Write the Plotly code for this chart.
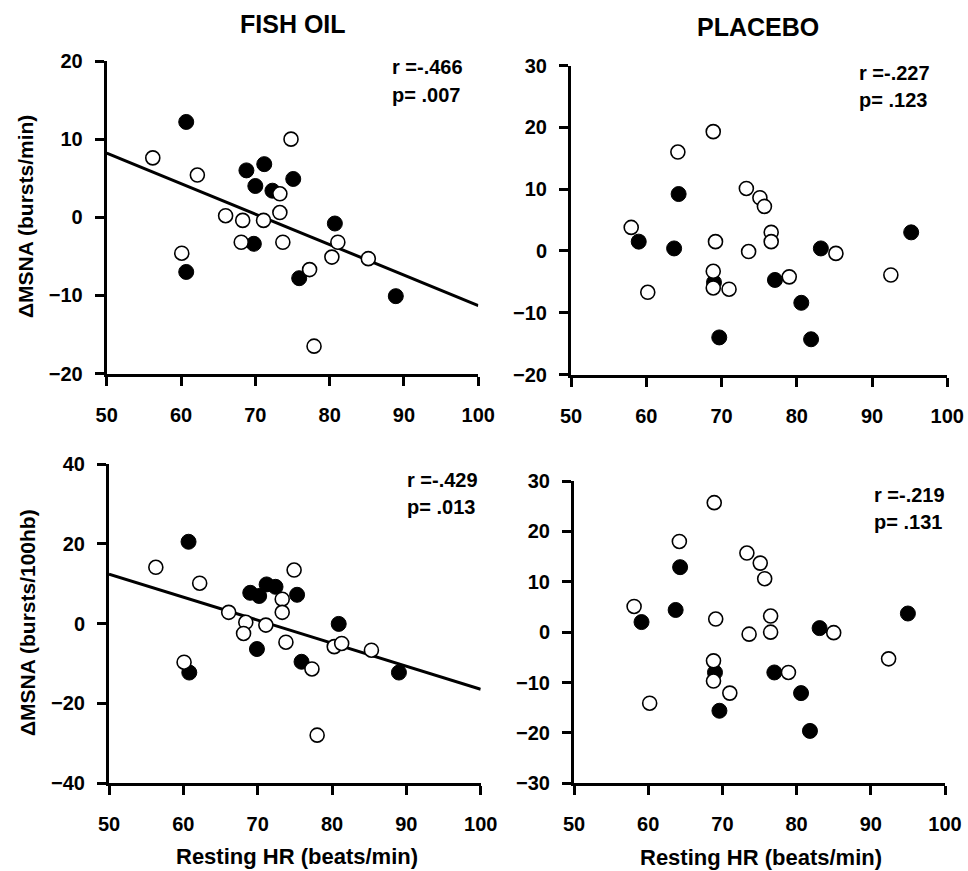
import plotly.graph_objects as go

W, H = 968, 871

# ---------------- data ----------------
hr_ticks = [50, 60, 70, 80, 90, 100]

# Panel A: FISH OIL, dMSNA bursts/min
fish_min_filled_x = [60.7, 60.7, 68.8, 71.2, 70.0, 72.3, 75.1, 69.8, 80.7, 75.9, 88.9]
fish_min_filled_y = [12.2, -7.0, 6.0, 6.8, 4.0, 3.4, 4.9, -3.4, -0.8, -7.8, -10.1]
fish_min_open_x = [56.2, 62.2, 74.8, 73.3, 73.3, 66.0, 68.3, 71.1, 68.1, 73.7, 60.1, 81.1, 80.3, 85.2, 77.3, 77.9]
fish_min_open_y = [7.6, 5.4, 10.0, 3.0, 0.6, 0.2, -0.4, -0.4, -3.2, -3.2, -4.6, -3.2, -5.1, -5.3, -6.7, -16.5]
fish_min_fit = (8.2, -0.39)      # (value at HR=50, slope)
fish_min_stats = ("r =-.466", "p= .007")

# Panel B: PLACEBO, dMSNA bursts/min
plac_min_filled_x = [59.0, 63.7, 64.3, 69.0, 69.7, 77.1, 80.6, 81.9, 83.2, 95.2]
plac_min_filled_y = [1.5, 0.4, 9.2, -5.1, -14.0, -4.7, -8.4, -14.3, 0.4, 3.0]
plac_min_open_x = [58.0, 60.2, 64.2, 68.9, 69.2, 68.9, 68.9, 71.0, 73.3, 75.1, 75.7, 73.6, 76.6, 76.6, 79.0, 85.2, 92.5]
plac_min_open_y = [3.8, -6.7, 16.0, 19.3, 1.5, -3.3, -6.0, -6.2, 10.1, 8.6, 7.2, -0.1, 3.0, 1.5, -4.2, -0.4, -3.9]
plac_min_stats = ("r =-.227", "p= .123")

# Panel C: FISH OIL, dMSNA bursts/100hb
fish_hb_filled_x = [60.7, 60.8, 69.0, 70.2, 71.2, 72.4, 75.3, 69.9, 80.9, 75.9, 89.0]
fish_hb_filled_y = [20.5, -12.3, 7.7, 6.9, 9.8, 9.2, 7.2, -6.4, -0.1, -9.6, -12.3]
fish_hb_open_x = [56.3, 62.2, 74.9, 73.3, 73.3, 66.1, 68.4, 68.1, 71.1, 73.8, 60.1, 80.3, 81.3, 85.3, 77.3, 78.0]
fish_hb_open_y = [14.1, 10.1, 13.4, 6.1, 2.8, 2.8, 0.3, -2.5, -0.4, -4.7, -9.7, -5.8, -5.0, -6.7, -11.4, -28.0]
fish_hb_fit = (12.4, -0.578)
fish_hb_stats = ("r =-.429", "p= .013")

# Panel D: PLACEBO, dMSNA bursts/100hb
plac_hb_filled_x = [59.1, 63.7, 64.3, 69.0, 69.6, 77.0, 80.6, 81.8, 83.1, 95.0]
plac_hb_filled_y = [2.0, 4.4, 12.9, -8.0, -15.6, -8.0, -12.1, -19.6, 0.8, 3.7]
plac_hb_open_x = [58.1, 60.2, 64.2, 68.9, 69.1, 68.8, 68.8, 71.0, 73.3, 75.1, 75.7, 73.6, 76.5, 76.5, 78.9, 85.0, 92.4]
plac_hb_open_y = [5.1, -14.1, 18.0, 25.7, 2.6, -5.7, -9.7, -12.1, 15.7, 13.7, 10.6, -0.4, 3.2, 0.0, -8.0, -0.1, -5.3]
plac_hb_stats = ("r =-.219", "p= .131")

titles = ["FISH OIL", "PLACEBO"]
x_title = "Resting HR (beats/min)"
y_titles = ["ΔMSNA (bursts/min)", "ΔMSNA (bursts/100hb)"]

# ---------------- layout helpers ----------------
FONT = "Liberation Sans, Arial, sans-serif"


def px_x(p):
    return p / W


def px_y(p):
    return 1 - p / H


panels = [
    dict(box=(106.7, 478.3, 61.0, 373.5), yr=[-20, 20], dt=10,
         fx=fish_min_filled_x, fy=fish_min_filled_y, ox=fish_min_open_x, oy=fish_min_open_y,
         fit=fish_min_fit, stats=fish_min_stats, spos=(390, 67, 95)),
    dict(box=(571.0, 947.3, 65.5, 374.5), yr=[-20, 30], dt=10,
         fx=plac_min_filled_x, fy=plac_min_filled_y, ox=plac_min_open_x, oy=plac_min_open_y,
         fit=None, stats=plac_min_stats, spos=(857, 73, 100)),
    dict(box=(109.0, 480.7, 464.0, 783.0), yr=[-40, 40], dt=20,
         fx=fish_hb_filled_x, fy=fish_hb_filled_y, ox=fish_hb_open_x, oy=fish_hb_open_y,
         fit=fish_hb_fit, stats=fish_hb_stats, spos=(405, 480, 507)),
    dict(box=(574.0, 945.0, 481.0, 783.3), yr=[-30, 30], dt=10,
         fx=plac_hb_filled_x, fy=plac_hb_filled_y, ox=plac_hb_open_x, oy=plac_hb_open_y,
         fit=None, stats=plac_hb_stats, spos=(872, 495, 522)),
]

fig = go.Figure()
annotations = []
layout_axes = {}

for i, p in enumerate(panels, start=1):
    xa = "x" if i == 1 else f"x{i}"
    ya = "y" if i == 1 else f"y{i}"
    l, r, t, b = p["box"]
    common = dict(
        showline=True, linecolor="black", linewidth=3,
        ticks="outside", ticklen=9, tickwidth=3, tickcolor="black",
        showgrid=False, zeroline=False, automargin=False,
        tickfont=dict(family=FONT, size=20, color="black", weight="bold"),
    )
    layout_axes["xaxis" if i == 1 else f"xaxis{i}"] = dict(
        common, domain=[px_x(l), px_x(r)], range=[50, 100],
        tickvals=hr_ticks, anchor=ya, ticklabelstandoff=12,
    )
    layout_axes["yaxis" if i == 1 else f"yaxis{i}"] = dict(
        common, domain=[px_y(b), px_y(t)], range=p["yr"], dtick=p["dt"],
        tick0=0, anchor=xa, ticklabelstandoff=8,
    )
    if p["fit"] is not None:
        y50, slope = p["fit"]
        fig.add_trace(go.Scatter(
            x=[50, 100], y=[y50, y50 + slope * 50], mode="lines",
            line=dict(color="black", width=3), xaxis=xa, yaxis=ya,
            showlegend=False, hoverinfo="skip", cliponaxis=False,
        ))
    fig.add_trace(go.Scatter(
        x=p["fx"], y=p["fy"], mode="markers",
        marker=dict(size=15, color="black", line=dict(color="black", width=1)),
        xaxis=xa, yaxis=ya, showlegend=False, cliponaxis=False,
    ))
    fig.add_trace(go.Scatter(
        x=p["ox"], y=p["oy"], mode="markers",
        marker=dict(size=14, color="white", line=dict(color="black", width=1.6)),
        xaxis=xa, yaxis=ya, showlegend=False, cliponaxis=False,
    ))
    sx, sy1, sy2 = p["spos"]
    for txt, yy in ((p["stats"][0], sy1), (p["stats"][1], sy2)):
        annotations.append(dict(
            text=txt, x=px_x(sx), y=px_y(yy), xref="paper", yref="paper",
            xanchor="left", yanchor="middle", showarrow=False,
            font=dict(family=FONT, size=20, color="black", weight="bold"),
        ))

for txt, cx, cy in ((titles[0], 292.5, 24), (titles[1], 758.3, 27)):
    annotations.append(dict(
        text=txt, x=px_x(cx), y=px_y(cy), xref="paper", yref="paper",
        xanchor="center", yanchor="middle", showarrow=False,
        font=dict(family=FONT, size=25, color="black", weight="bold"),
    ))

for cx, cy in ((296.5, 856), (760.7, 857)):
    annotations.append(dict(
        text=x_title, x=px_x(cx), y=px_y(cy), xref="paper", yref="paper",
        xanchor="center", yanchor="middle", showarrow=False,
        font=dict(family=FONT, size=22, color="black", weight="bold"),
    ))

for txt, cx, cy in ((y_titles[0], 26, 217), (y_titles[1], 27, 623)):
    annotations.append(dict(
        text=txt, x=px_x(cx), y=px_y(cy), xref="paper", yref="paper",
        xanchor="center", yanchor="middle", showarrow=False, textangle=-90,
        font=dict(family=FONT, size=21, color="black", weight="bold"),
    ))

fig.update_layout(
    template="none",
    width=W, height=H,
    margin=dict(l=0, r=0, t=0, b=0, autoexpand=False),
    paper_bgcolor="white", plot_bgcolor="white",
    annotations=annotations,
    hovermode=False,
    **layout_axes,
)

fig.write_html(
    "out.html",
    config={"displayModeBar": False, "staticPlot": True},
    post_script="document.body.style.margin='0px';document.body.style.overflow='hidden';",
)
